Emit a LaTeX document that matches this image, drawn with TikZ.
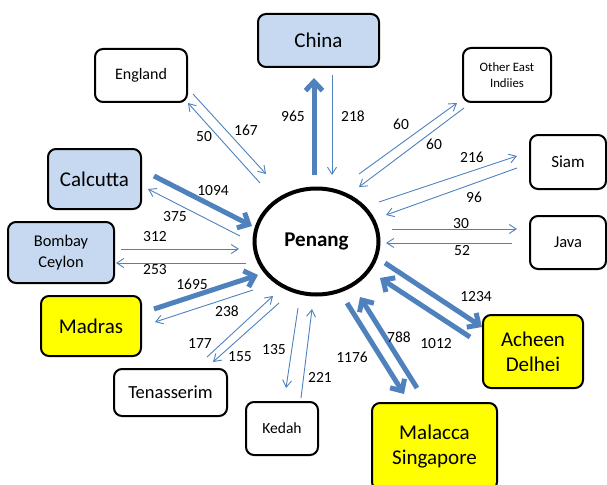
\documentclass[tikz,border=0pt]{standalone}
\usepackage{fontspec}
\setmainfont{Carlito}
\usetikzlibrary{arrows.meta,shapes.geometric}
\definecolor{lblue}{HTML}{C6D9F1}
\definecolor{ablue}{HTML}{4F81BD}
\definecolor{yel}{HTML}{FFFF00}
\tikzset{
  box/.style={draw=black,line width=2pt,rounded corners=8pt,align=center,inner sep=0pt,font=\fontsize{16}{19}\selectfont},
  thin/.style={draw=ablue,line width=0.9pt,-{Straight Barb[length=7pt,width=9pt]}},
  thick/.style={draw=ablue,line width=5pt,-{Straight Barb[length=9pt,width=17pt]}},
  lab/.style={font=\fontsize{15.5}{17}\selectfont,inner sep=0pt},
}
\begin{document}
\begin{tikzpicture}[x=1pt,y=-1pt]
\clip (0,0) rectangle (607,484);
\useasboundingbox (0,0) rectangle (607,484);
% nodes
\node[ellipse,draw=black,line width=4pt,minimum width=124pt,minimum height=106pt,font=\fontsize{21}{24}\selectfont\bfseries] (pen) at (316.5,241.5) {Penang};
\node[box,fill=lblue,minimum width=121pt,minimum height=53pt,font=\fontsize{21}{24}\selectfont] (china) at (318.5,40.5) {China};
\node[box,minimum width=92pt,minimum height=53pt] (eng) at (141,75.5) {England};
\node[box,minimum width=88pt,minimum height=54pt,font=\fontsize{12.8}{16}\selectfont] (oei) at (507,75) {Other East\\Indiies};
\node[box,fill=lblue,minimum width=93pt,minimum height=60pt,font=\fontsize{21}{24}\selectfont] (cal) at (94.5,179) {Calcutta};
\node[box,minimum width=76pt,minimum height=54pt,font=\fontsize{17}{20}\selectfont] (siam) at (568,162) {Siam};
\node[box,minimum width=76pt,minimum height=53pt,font=\fontsize{16.5}{20}\selectfont] (java) at (568,242.5) {Java};
\node[box,fill=lblue,minimum width=106pt,minimum height=61pt,font=\fontsize{16.4}{21}\selectfont] (bom) at (61,252.5) {Bombay\\Ceylon};
\node[box,fill=yel,minimum width=100pt,minimum height=60pt,font=\fontsize{21}{24}\selectfont] (mad) at (91,326) {Madras};
\node[box,minimum width=113pt,minimum height=47pt,font=\fontsize{18.5}{21}\selectfont] (ten) at (170.5,392.5) {Tenasserim};
\node[box,minimum width=72pt,minimum height=53pt,font=\fontsize{15.5}{18}\selectfont] (ked) at (282,428.5) {Kedah};
\node[box,fill=yel,minimum width=100pt,minimum height=73pt,font=\fontsize{21}{25}\selectfont] (ach) at (533,351.5) {Acheen\\Delhei};
\node[box,fill=yel,minimum width=125pt,minimum height=87pt,font=\fontsize{21}{25}\selectfont] (mal) at (434.5,446.5) {Malacca\\Singapore};
% connector end points
\coordinate (c1a) at (314,175); \coordinate (c1b) at (314,78);
\coordinate (c2a) at (332,75);  \coordinate (c2b) at (332,175);
\coordinate (e1a) at (260,183); \coordinate (e1b) at (188,103);
\coordinate (e2a) at (193,94);  \coordinate (e2b) at (266,174);
\coordinate (k1a) at (154,176); \coordinate (k1b) at (252,226);
\coordinate (k2a) at (240,236); \coordinate (k2b) at (148,189);
\coordinate (b1a) at (121,249); \coordinate (b1b) at (239,249);
\coordinate (b2a) at (246,263); \coordinate (b2b) at (116,263);
\coordinate (m1a) at (154,309); \coordinate (m1b) at (258,275);
\coordinate (m2a) at (253,290); \coordinate (m2b) at (155,322);
\coordinate (t1a) at (207,357); \coordinate (t1b) at (273,296);
\coordinate (t2a) at (279,303); \coordinate (t2b) at (213,362);
\coordinate (d1a) at (298,308); \coordinate (d1b) at (286,388);
\coordinate (d2a) at (301,398); \coordinate (d2b) at (312,309);
\coordinate (s1a) at (347,303); \coordinate (s1b) at (404,394);
\coordinate (s2a) at (417,388); \coordinate (s2b) at (360,297);
\coordinate (a1a) at (385,263); \coordinate (a1b) at (482,327);
\coordinate (a2a) at (470,337); \coordinate (a2b) at (380,278);
\coordinate (o1a) at (359,174); \coordinate (o1b) at (457,103);
\coordinate (o2a) at (464,108); \coordinate (o2b) at (359,187);
\coordinate (q1a) at (379,202); \coordinate (q1b) at (517,156);
\coordinate (q2a) at (517,168); \coordinate (q2b) at (386,215);
\coordinate (j1a) at (392,229); \coordinate (j1b) at (517,229);
\coordinate (j2a) at (512,243); \coordinate (j2b) at (386,243);
% connectors
\draw[thick] (c1a) -- (c1b);
\draw[thin] (c2a) -- (c2b);
\draw[thin] (e1a) -- (e1b);
\draw[thin] (e2a) -- (e2b);
\draw[thick] (k1a) -- (k1b);
\draw[thin] (k2a) -- (k2b);
\draw[thin] (b1a) -- (b1b);
\draw[thin] (b2a) -- (b2b);
\draw[thick] (m1a) -- (m1b);
\draw[thin] (m2a) -- (m2b);
\draw[thin] (t1a) -- (t1b);
\draw[thin] (t2a) -- (t2b);
\draw[thin] (d1a) -- (d1b);
\draw[thin] (d2a) -- (d2b);
\draw[thick] (s1a) -- (s1b);
\draw[thick] (s2a) -- (s2b);
\draw[thick] (a1a) -- (a1b);
\draw[thick] (a2a) -- (a2b);
\draw[thin] (o1a) -- (o1b);
\draw[thin] (o2a) -- (o2b);
\draw[thin] (q1a) -- (q1b);
\draw[thin] (q2a) -- (q2b);
\draw[thin] (j1a) -- (j1b);
\draw[thin] (j2a) -- (j2b);
% labels
\node[lab] (l965) at (293,116) {965};
\node[lab] (l218) at (353,116) {218};
\node[lab] (l50) at (204,137) {50};
\node[lab] (l167) at (246,130) {167};
\node[lab] (l1094) at (213,191) {1094};
\node[lab] (l375) at (175,217) {375};
\node[lab] (l312) at (155,237) {312};
\node[lab] (l253) at (155,270) {253};
\node[lab] (l1695) at (192,284) {1695};
\node[lab] (l238) at (227,311) {238};
\node[lab] (l177) at (200,344) {177};
\node[lab] (l155) at (240,357) {155};
\node[lab] (l135) at (274,350) {135};
\node[lab] (l221) at (320,377) {221};
\node[lab] (l1176) at (352,357) {1176};
\node[lab] (l788) at (399,337) {788};
\node[lab] (l1012) at (436,344) {1012};
\node[lab] (l1234) at (476,297) {1234};
\node[lab] (l60a) at (401,124) {60};
\node[lab] (l60b) at (434,144) {60};
\node[lab] (l216) at (472,157) {216};
\node[lab] (l96) at (474,197) {96};
\node[lab] (l30) at (461,224) {30};
\node[lab] (l52) at (462,251) {52};
\end{tikzpicture}
\end{document}
